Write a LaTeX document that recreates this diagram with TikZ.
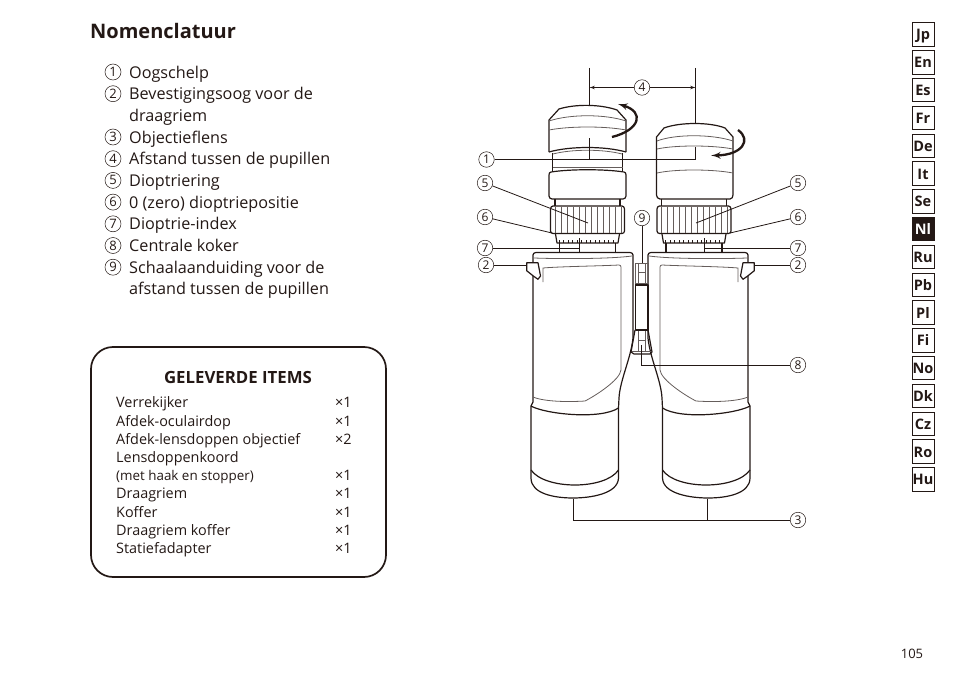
\documentclass[tikz,border=0pt]{standalone}
\usepackage{fontspec}
\setmainfont{Open Sans}
\usetikzlibrary{shapes,arrows}
\definecolor{ink}{HTML}{231815}
\tikzstyle{title} = [text=ink, font=\fontsize{20}{20}\selectfont\bfseries, anchor=west, inner sep=0pt]
\tikzstyle{numb} = [circle, draw=ink, line width=.5pt, text=ink, minimum size=16pt, inner sep=0pt,
    font=\fontsize{13}{13}\selectfont]
\tikzstyle{callout} = [numb, minimum size=15.5pt, font=\fontsize{12}{12}\selectfont]
\tikzstyle{item} = [text=ink, anchor=west, inner sep=0pt, text height=13.5pt, text depth=1.5pt,
    font=\fontsize{16.2}{16.2}\selectfont]
\tikzstyle{kititem} = [text=ink, anchor=west, inner sep=0pt, text height=12pt, text depth=1pt,
    font=\fontsize{14.4}{14.4}\selectfont]
\tikzstyle{tab} = [rectangle, draw=ink, line width=.9pt, text=ink, minimum width=22pt, minimum height=23.5pt,
    inner sep=0pt, text height=12pt, text depth=1pt, font=\fontsize{14.5}{14.5}\selectfont\bfseries]
\tikzstyle{tabon} = [tab, fill=ink, text=white]
\tikzstyle{line} = [draw=ink, line width=.8pt]
\tikzstyle{dimline} = [line, -latex']
\tikzstyle{spin} = [draw=ink, line width=2.3pt, -latex']
\tikzstyle{outline} = [draw=ink, line width=1.2pt, line join=round]
\tikzstyle{fine} = [draw=ink!70, line width=.8pt]
% one barrel below the eyepiece, drawn for the left side and mirrored for the right
\newcommand{\barrelbody}{
    \path [outline] (533,393) -- (533,255) to[out=90,in=180] (536,252.5) -- (630,252.5) to[out=0,in=90] (633,255)
      -- (633,338) .. controls (631,358) and (620,380) .. (619,398) -- (618.5,408) -- (618.5,478)
      .. controls (618,494) and (590,498) .. (573,498) .. controls (555,498) and (531,494) .. (531,478)
      -- (531,406) -- (533,402) -- (533,393);
    \path [fine] (534,258) .. controls (560,259) and (610,259) .. (632,256);
    \path [fine] (543,282) -- (543,268) .. controls (560,266.5) and (600,266) .. (619,265)
      to[out=0,in=90] (621,267) -- (621,370) .. controls (620,380) and (595,396) .. (585,401)
      .. controls (570,402) and (545,402) .. (533,397);
    \path [outline] (531,406) .. controls (545,414) and (600,420) .. (618.5,408);
    \path [outline] (531,470) .. controls (545,490) and (605,490) .. (618.5,470);
    % strap lug
    \path [outline, fill=white] (526.7,262.7) -- (538,262.7) -- (540.5,276) -- (538,279.3) -- (533.3,276) -- (526.7,270.7) -- cycle;
}
% dioptre ring, scale and base
\newcommand{\ringparts}[1]{
    \begin{scope}[xshift=#1]
    \path [outline] (555,199) -- (555,206) (620,199) -- (620,206);
    \path [outline] (553,206) -- (622,206) to[out=0,in=90] (624.5,209) -- (624.5,231) to[out=-90,in=0] (622,233.5) -- (553,233.5)
      to[out=180,in=-90] (550.5,231) -- (550.5,209) to[out=90,in=180] cycle;
    \foreach \kx in {555,561,...,621} { \path [fine, line width=.6pt] (\kx,207) -- (\kx,233); }
    \path [outline] (555.5,234) -- (557,243) -- (618,243) -- (619.5,234);
    \foreach \tx in {559,563.5,...,617} { \path [line, line width=.6pt] (\tx,240) -- (\tx,243); }
    \path [outline] (559.5,243) -- (559.5,252) (615.5,243) -- (615.5,252);
    \end{scope}
}
\begin{document}
\begin{tikzpicture}[x=1pt, y=-1pt, node distance=21.7pt]
\useasboundingbox (0,0) rectangle (954,677);
    % Place nodes
\node[title] (head) at (90,31) {Nomenclatuur};
\node[numb] (n1) at (113,72) {1};
\node[numb, below of=n1] (n2) {2};
\node[numb, below of=n2, node distance=43.3pt] (n3) {3};
\node[numb, below of=n3] (n4) {4};
\node[numb, below of=n4] (n5) {5};
\node[numb, below of=n5] (n6) {6};
\node[numb, below of=n6] (n7) {7};
\node[numb, below of=n7] (n8) {8};
\node[numb, below of=n8] (n9) {9};
\node[item, right of=n1, node distance=16pt, anchor=west] (t1) {Oogschelp};
\node[item, right of=n2, node distance=16pt, anchor=west] (t2) {Bevestigingsoog voor de};
\node[item, below of=n2, xshift=16pt, anchor=west] (t2b) {draagriem};
\node[item, right of=n3, node distance=16pt, anchor=west] (t3) {Objectieflens};
\node[item, right of=n4, node distance=16pt, anchor=west] (t4) {Afstand tussen de pupillen};
\node[item, right of=n5, node distance=16pt, anchor=west] (t5) {Dioptriering};
\node[item, right of=n6, node distance=16pt, anchor=west] (t6) {0 (zero) dioptriepositie};
\node[item, right of=n7, node distance=16pt, anchor=west] (t7) {Dioptrie-index};
\node[item, right of=n8, node distance=16pt, anchor=west] (t8) {Centrale koker};
\node[item, right of=n9, node distance=16pt, anchor=west] (t9) {Schaalaanduiding voor de};
\node[item, below of=n9, xshift=16pt, anchor=west] (t9b) {afstand tussen de pupillen};

    % Box with items
\node[draw=ink, line width=1.7pt, rounded corners=22pt, minimum width=295pt, minimum height=230pt, inner sep=0pt] (kit) at (238.5,462) {};
\node[text=ink, font=\fontsize{16.8}{16.8}\selectfont\bfseries, inner sep=0pt] (kithead) at (238,377) {GELEVERDE ITEMS};
\node[kititem] (k1) at (116,402) {Verrekijker};
\node[kititem] (k2) at (116,421) {Afdek-oculairdop};
\node[kititem] (k3) at (116,439) {Afdek-lensdoppen objectief};
\node[kititem] (k4) at (116,457) {Lensdoppenkoord};
\node[kititem, font=\fontsize{13.4}{13.4}\selectfont] (k5) at (116,475) {(met haak en stopper)};
\node[kititem] (k6) at (116,493) {Draagriem};
\node[kititem] (k7) at (116,512) {Koffer};
\node[kititem] (k8) at (116,530) {Draagriem koffer};
\node[kititem] (k9) at (116,548) {Statiefadapter};
\node[kititem] (q1) at (335,402) {×1};
\node[kititem] (q2) at (335,421) {×1};
\node[kititem] (q3) at (335,439) {×2};
\node[kititem] (q5) at (335,475) {×1};
\node[kititem] (q6) at (335,493) {×1};
\node[kititem] (q7) at (335,512) {×1};
\node[kititem] (q8) at (335,530) {×1};
\node[kititem] (q9) at (335,548) {×1};

    % Language tabs
\node[tab] (jp) at (923,34.5) {Jp};
\node[tab, below of=jp, node distance=27.8pt] (en) {En};
\node[tab, below of=en, node distance=27.8pt] (es) {Es};
\node[tab, below of=es, node distance=27.8pt] (fr) {Fr};
\node[tab, below of=fr, node distance=27.8pt] (de) {De};
\node[tab, below of=de, node distance=27.8pt] (it) {It};
\node[tab, below of=it, node distance=27.8pt] (se) {Se};
\node[tabon, below of=se, node distance=27.8pt] (nl) {Nl};
\node[tab, below of=nl, node distance=27.8pt] (ru) {Ru};
\node[tab, below of=ru, node distance=27.8pt] (pb) {Pb};
\node[tab, below of=pb, node distance=27.8pt] (pl) {Pl};
\node[tab, below of=pl, node distance=27.8pt] (fi) {Fi};
\node[tab, below of=fi, node distance=27.8pt] (no) {No};
\node[tab, below of=no, node distance=27.8pt] (dk) {Dk};
\node[tab, below of=dk, node distance=27.8pt] (cz) {Cz};
\node[tab, below of=cz, node distance=27.8pt] (ro) {Ro};
\node[tab, below of=ro, node distance=27.8pt] (hu) {Hu};
\node[text=ink, font=\fontsize{13}{13}\selectfont, inner sep=0pt] (page) at (912,654) {105};

    % Barrels and bridge
\barrelbody
\begin{scope}[xshift=1281pt, xscale=-1]
\barrelbody
\end{scope}
\path [fine] (635,263) -- (648,263) (635,263) -- (635,285) (648,263) -- (648,285);
\path [fine] (638,263) -- (638,283) (645,263) -- (645,283) (638,272) -- (645,272) (635,283) -- (648,283);
\path [outline] (635.5,285) rectangle (648,330);
\path [outline] (635,330) -- (631,352) -- (634,354) -- (650,354) -- (652,352) -- (648,330);
\path [fine] (632,351.5) -- (651,351.5) (638,331) -- (638,351) (645,331) -- (645,351) (638,340) -- (645,340);

    % Left eyepiece
\path [outline] (549,152) -- (549,120) -- (559,109) .. controls (575,104) and (600,104) .. (617,110) -- (626,120) -- (626,152);
\path [fine] (549,121) .. controls (570,114) and (605,114) .. (626,121);
\path [fine] (549,130) .. controls (570,126) and (605,126) .. (626,130);
\path [outline] (549,152) .. controls (570,146) and (605,146) .. (626,152);
\path [fine] (553,154) .. controls (572,149) and (603,149) .. (622,154);
\path [outline] (552.5,153) -- (552.5,171) (622.5,153) -- (622.5,171);
\path [fine] (552.5,167) -- (622.5,167);
\path [outline] (551,172) .. controls (570,169) and (605,169) .. (624,172) to[out=0,in=90] (626,175) -- (626,196)
  to[out=-90,in=0] (623,199) -- (552,199) to[out=180,in=-90] (549,196) -- (549,175) to[out=90,in=180] cycle;
\ringparts{0pt}

    % Right eyepiece
\path [outline] (664,128) .. controls (680,122) and (710,122) .. (725,128) -- (733,137) -- (733,195) to[out=-90,in=0] (730,199)
  -- (660,199) to[out=180,in=-90] (656.5,195) -- (656.5,137) -- cycle;
\path [fine] (657,141) .. controls (675,134) and (712,134) .. (733,141);
\path [fine] (657,149) .. controls (675,145) and (712,145) .. (733,149);
\path [fine] (657,173) .. controls (675,169) and (712,169) .. (733,173);
\ringparts{106.5pt}

    % Turning arrows
\coordinate (sl0) at (612,137);
\coordinate (sl1) at (618,104);
\coordinate (sr0) at (738,130);
\coordinate (sr1) at (711,155.5);
\path [spin] (sl0) .. controls (640,130) and (645,112) .. (sl1);
\path [spin] (sr0) .. controls (752,140) and (742,155) .. (sr1);

    % Callouts
\node[callout] (c4) at (642,87.5) {4};
\node[callout] (c1) at (486.5,159.5) {1};
\node[callout] (c5l) at (485,183) {5};
\node[callout] (c6l) at (485,217) {6};
\node[callout] (c7l) at (485,248) {7};
\node[callout] (c2l) at (486,265) {2};
\node[callout] (c5r) at (798,183) {5};
\node[callout] (c6r) at (798,217) {6};
\node[callout] (c7r) at (798,248) {7};
\node[callout] (c2r) at (798,265) {2};
\node[callout] (c9) at (642,218) {9};
\node[callout] (c8) at (798,365) {8};
\node[callout] (c3) at (798,520) {3};

\coordinate (ltop) at (589.5,68);
\coordinate (lcup) at (589.5,105.5);
\coordinate (rtop) at (695.5,68);
\coordinate (rcup) at (695.5,123.5);
\coordinate (larr) at (589.5,87.5);
\coordinate (rarr) at (695.5,87.5);
\coordinate (e1l) at (589.5,138);
\coordinate (e1r) at (695.5,147);
\coordinate (e5l) at (588,223);
\coordinate (e5r) at (696,223);
\coordinate (e6l) at (552,233);
\coordinate (e6r) at (730,233);
\coordinate (e7l) at (579,248);
\coordinate (e7r) at (704,248);
\coordinate (i7lt) at (579,238);
\coordinate (i7lb) at (579,253);
\coordinate (i7rt) at (704,238);
\coordinate (i7rb) at (704,253);
\coordinate (e2l) at (526.7,265);
\coordinate (e2r) at (754.3,265);
\coordinate (e9) at (642,263);
\coordinate (e8) at (641.5,345);
\coordinate (e3l) at (573,499);
\coordinate (e3r) at (707.5,499);

    % Draw edges
\path [line] (ltop) -- (lcup);
\path [line] (rtop) -- (rcup);
\path [dimline] (c4) -- (larr);
\path [dimline] (c4) -- (rarr);
\path [line] (c1) -| (e1r);
\path [line] (c1) -| (e1l);
\path [line] (c5l) -- (e5l);
\path [line] (c5r) -- (e5r);
\path [line] (c6l) -- (e6l);
\path [line] (c6r) -- (e6r);
\path [line] (c7l) -- (e7l);
\path [line] (c7r) -- (e7r);
\path [line] (i7lt) -- (i7lb);
\path [line] (i7rt) -- (i7rb);
\path [line] (c2l) -- (e2l);
\path [line] (c2r) -- (e2r);
\path [line] (c9) -- (e9);
\path [line] (c8) -| (e8);
\path [line] (c3) -| (e3l);
\path [line] (c3) -| (e3r);
\end{tikzpicture}
\end{document}
